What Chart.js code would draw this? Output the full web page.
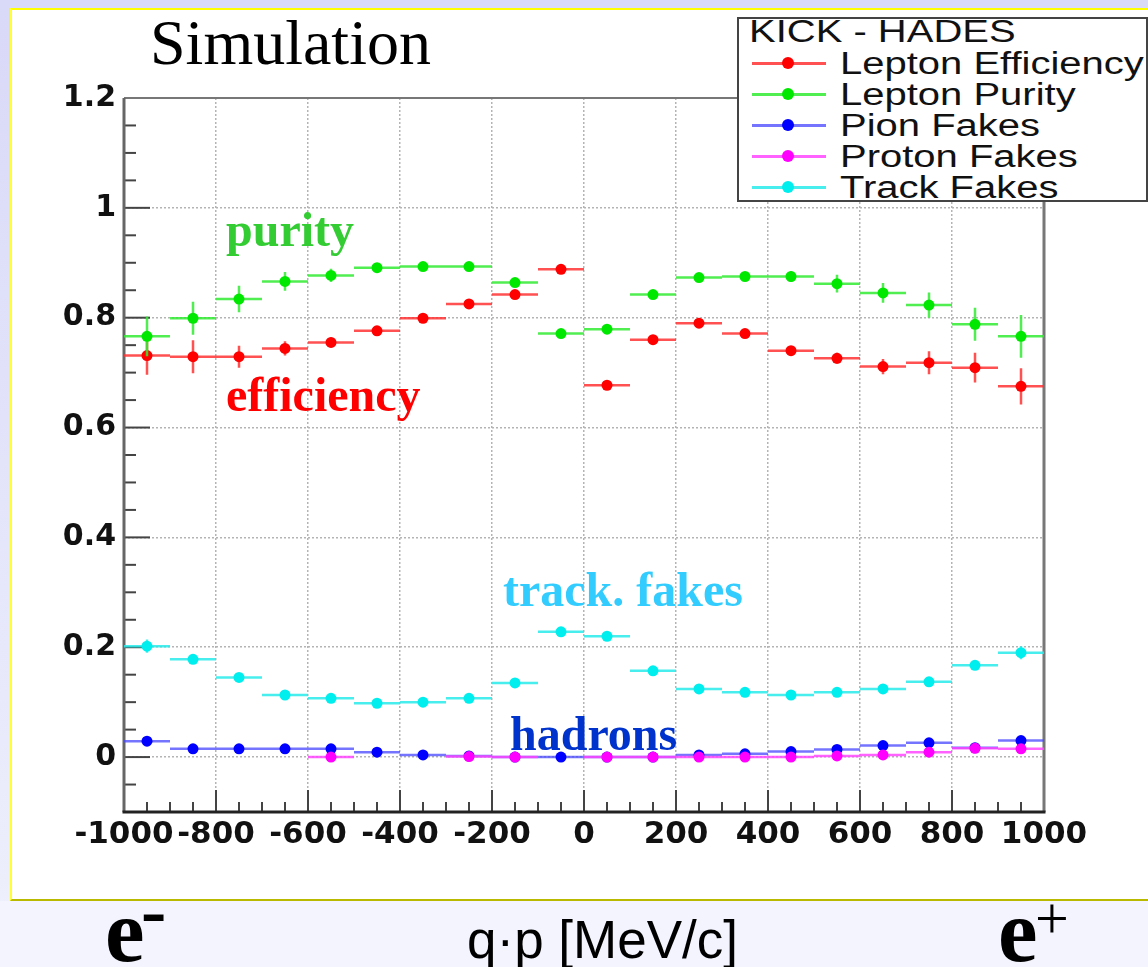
<!DOCTYPE html>
<html>
<head>
<meta charset="utf-8">
<title>KICK - HADES lepton identification</title>
<script src="https://cdn.jsdelivr.net/npm/chart.js@4.4.1/dist/chart.umd.min.js"></script>
<style>
  html, body { margin: 0; padding: 0; }
  body {
    position: relative; width: 1148px; height: 967px; overflow: hidden;
    background: linear-gradient(to bottom, #d9d9f8 0px, #eceefc 880px, #f3f4fd 967px);
  }
  #panel {
    position: absolute; left: 10px; top: 8px; width: 1150px; height: 889px;
    background: #fff;
    border-top: 2px solid #ffff00; border-left: 2px solid #ffff33; border-bottom: 2px solid #b9b900;
  }
  #footer { position: absolute; left: 0; top: 901px; width: 1148px; height: 66px; background: #f3f4fd; }
  #chart { position: absolute; left: 0; top: 0; }
  .note { position: absolute; white-space: nowrap; line-height: 1; }
  .serif { font-family: "Liberation Serif", "Times New Roman", serif; }
  .sans { font-family: "Liberation Sans", Arial, sans-serif; }
  .bold { font-weight: bold; }

  #legend {
    position: absolute; left: 737px; top: 17px; width: 407px; height: 181px;
    border: 2px solid #444; background: #fff; overflow: hidden;
    font-family: "Liberation Sans", Arial, sans-serif; color: #111;
  }
  #legend .title {
    position: absolute; left: 10px; top: -3px; font-size: 31px; line-height: 31px;
    transform: scaleX(1.29); transform-origin: left center; white-space: nowrap;
  }
  #legend .row { position: absolute; left: 0; width: 600px; height: 31px; }
  #legend .line { position: absolute; left: 13px; top: 14px; width: 74px; height: 3px; }
  #legend .dot { position: absolute; left: 43px; top: 9px; width: 12px; height: 12px; border-radius: 50%; }
  #legend .text {
    position: absolute; left: 101px; top: 0; font-size: 31px; line-height: 31px;
    transform: scaleX(1.29); transform-origin: left center; white-space: nowrap;
  }
</style>
</head>
<body>
<div id="panel"></div>
<div id="footer"></div>
<canvas id="chart" width="1148" height="967"></canvas>

<div id="legend"><div class="title">KICK - HADES</div></div>

<div class="note serif" style="left:150px; top:11px; font-size:64px; color:#000;">Simulation</div>
<div class="note serif bold" style="left:226px; top:206px; font-size:48px; color:#33cc33;">purity</div>
<div class="note serif bold" style="left:226px; top:371px; font-size:48px; color:#ff0000;">efficiency</div>
<div class="note serif bold" style="left:503px; top:566px; font-size:48px; color:#33ccff;">track. fakes</div>
<div class="note serif bold" style="left:510px; top:710px; font-size:48px; color:#0033cc;">hadrons</div>

<div class="note serif bold" style="left:105px; top:887px; font-size:89px; color:#000;">e</div>
<div class="note serif bold" style="left:141px; top:872px; font-size:76px; color:#000;">-</div>
<div class="note sans" style="left:467px; top:913px; font-size:53px; color:#000;">q·p [MeV/c]</div>
<div class="note serif bold" style="left:998px; top:887px; font-size:89px; color:#000;">e</div>
<div class="note serif" style="left:1035px; top:888px; font-size:60px; color:#000;">+</div>

<script>
// bin centres in q*p (MeV/c); every bin is 100 MeV/c wide
const qpBins = [-950, -850, -750, -650, -550, -450, -350, -250, -150, -50,
                50, 150, 250, 350, 450, 550, 650, 750, 850, 950];
const binHalfWidth = 50;

const leptonEff = [0.731, 0.729, 0.729, 0.744, 0.755, 0.776, 0.799, 0.825, 0.842, 0.888,
                   0.677, 0.760, 0.790, 0.771, 0.740, 0.726, 0.711, 0.718, 0.709, 0.675];
const leptonEffErr = [0.035, 0.030, 0.020, 0.013, 0.009, 0.006, 0.005, 0.005, 0.005, 0.005,
                      0.005, 0.006, 0.006, 0.007, 0.008, 0.010, 0.014, 0.021, 0.027, 0.033];

const leptonPur = [0.766, 0.799, 0.834, 0.866, 0.877, 0.891, 0.893, 0.893, 0.864, 0.771,
                   0.779, 0.842, 0.873, 0.875, 0.875, 0.862, 0.845, 0.823, 0.788, 0.766];
const leptonPurErr = [0.036, 0.030, 0.024, 0.017, 0.012, 0.008, 0.007, 0.007, 0.008, 0.006,
                      0.006, 0.007, 0.007, 0.008, 0.010, 0.016, 0.018, 0.023, 0.030, 0.039];

const pionFakes = [0.029, 0.015, 0.015, 0.015, 0.015, 0.009, 0.004, 0.002, 0.000, 0.000,
                   0.000, 0.000, 0.004, 0.006, 0.010, 0.014, 0.021, 0.026, 0.017, 0.030];
const pionFakesErr = [0.004, 0.003, 0.003, 0.003, 0.003, 0.003, 0.002, 0.002, 0.002, 0.002,
                      0.002, 0.002, 0.002, 0.002, 0.003, 0.003, 0.003, 0.004, 0.004, 0.005];

const protonFakes = [null, null, null, null, 0.000, null, null, 0.001, 0.000, null,
                     0.000, 0.000, 0.000, 0.000, 0.000, 0.002, 0.004, 0.009, 0.016, 0.015];
const protonFakesErr = [0, 0, 0, 0, 0.002, 0, 0, 0.002, 0.002, 0,
                        0.002, 0.002, 0.002, 0.002, 0.002, 0.002, 0.003, 0.003, 0.004, 0.004];

const trackFakes = [0.202, 0.178, 0.145, 0.113, 0.107, 0.098, 0.100, 0.107, 0.135, 0.228,
                    0.220, 0.157, 0.124, 0.118, 0.113, 0.118, 0.124, 0.137, 0.167, 0.190];
const trackFakesErr = [0.012, 0.007, 0.005, 0.004, 0.004, 0.004, 0.004, 0.004, 0.005, 0.005,
                       0.005, 0.005, 0.004, 0.004, 0.004, 0.004, 0.004, 0.005, 0.008, 0.012];

const seriesNames = ['Lepton Efficiency', 'Lepton Purity', 'Pion Fakes', 'Proton Fakes', 'Track Fakes'];
const seriesValues = [leptonEff, leptonPur, pionFakes, protonFakes, trackFakes];
const seriesErrors = [leptonEffErr, leptonPurErr, pionFakesErr, protonFakesErr, trackFakesErr];

const xTickValues = [-1000, -800, -600, -400, -200, 0, 200, 400, 600, 800, 1000];
const yTickValues = [0, 0.2, 0.4, 0.6, 0.8, 1, 1.2];
const yTickLabels = ['0', '0.2', '0.4', '0.6', '0.8', '1', '1.2'];

// styles
const markerColors = ['#ff0000', '#00e800', '#0000ff', '#ff00ff', '#00eeee'];
const barColors = ['rgba(255,50,50,0.85)', 'rgba(50,235,50,0.85)', 'rgba(70,70,255,0.75)',
                   'rgba(255,70,255,0.85)', 'rgba(40,235,235,0.85)'];

// horizontal bar = bin width, vertical bar = statistical error
const errorBars = {
    id: 'errorBars',
    beforeDatasetDraw(chart, args) {
        const ds = chart.data.datasets[args.index];
        const xs = chart.scales.x;
        const ys = chart.scales.y;
        const ctx = chart.ctx;
        ctx.save();
        ctx.strokeStyle = ds.barColor;
        ctx.lineWidth = 2.5;
        ds.data.forEach((p, i) => {
            if (p.y === null) return;
            const px = xs.getPixelForValue(p.x);
            const py = ys.getPixelForValue(p.y);
            const e = ds.errors[i];
            ctx.beginPath();
            ctx.moveTo(xs.getPixelForValue(p.x - binHalfWidth), py);
            ctx.lineTo(xs.getPixelForValue(p.x + binHalfWidth), py);
            if (e > 0) {
                ctx.moveTo(px, ys.getPixelForValue(p.y - e));
                ctx.lineTo(px, ys.getPixelForValue(p.y + e));
            }
            ctx.stroke();
        });
        ctx.restore();
    }
};

// ROOT style frame with inward ticks
const rootFrame = {
    id: 'rootFrame',
    beforeDatasetsDraw(chart) {
        const ctx = chart.ctx;
        const a = chart.chartArea;
        const xs = chart.scales.x;
        const ys = chart.scales.y;
        ctx.save();
        ctx.strokeStyle = '#444';
        ctx.lineWidth = 2;
        for (let k = 0; k <= 40; k++) {
            const v = -1000 + k * 50;
            const px = xs.getPixelForValue(v);
            ctx.beginPath();
            ctx.moveTo(px, a.bottom);
            ctx.lineTo(px, a.bottom - (k % 4 === 0 ? 22 : 10));
            ctx.stroke();
        }
        for (let k = 0; k <= 26; k++) {
            const v = -0.1 + k * 0.05;
            const py = ys.getPixelForValue(v);
            ctx.beginPath();
            ctx.moveTo(a.left, py);
            ctx.lineTo(a.left + ((k - 2) % 4 === 0 ? 26 : 12), py);
            ctx.stroke();
        }
        ctx.lineWidth = 2;
        ctx.strokeStyle = '#777';
        ctx.beginPath();
        ctx.moveTo(a.left, a.top);
        ctx.lineTo(a.right, a.top);
        ctx.stroke();
        ctx.lineWidth = 3;
        ctx.strokeStyle = '#777';
        ctx.beginPath();
        ctx.moveTo(a.right, a.top);
        ctx.lineTo(a.right, a.bottom);
        ctx.stroke();
        ctx.strokeStyle = '#666';
        ctx.beginPath();
        ctx.moveTo(a.left, a.top);
        ctx.lineTo(a.left, a.bottom);
        ctx.stroke();
        ctx.strokeStyle = '#222';
        ctx.beginPath();
        ctx.moveTo(a.left - 1.5, a.bottom);
        ctx.lineTo(a.right + 1.5, a.bottom);
        ctx.stroke();
        ctx.restore();
    }
};

const datasets = seriesNames.map((name, s) => ({
    label: name,
    data: qpBins.map((x, i) => ({ x: x, y: seriesValues[s][i] })),
    errors: seriesErrors[s],
    barColor: barColors[s],
    showLine: false,
    pointRadius: 5.5,
    pointHoverRadius: 5.5,
    pointBorderWidth: 0,
    pointBackgroundColor: markerColors[s],
    order: seriesNames.length - s
}));

const tickFont = { family: 'DejaVu Sans', weight: 'bold', size: 30 };

new Chart(document.getElementById('chart').getContext('2d'), {
    type: 'line',
    data: { datasets: datasets },
    options: {
        responsive: false,
        animation: false,
        layout: { padding: { top: 98, right: 104, left: 0, bottom: 0 } },
        plugins: { legend: { display: false }, tooltip: { enabled: false } },
        scales: {
            x: {
                type: 'linear',
                min: -1000,
                max: 1000,
                afterBuildTicks: scale => { scale.ticks = xTickValues.map(v => ({ value: v })); },
                afterFit: scale => { scale.height = 155; },
                ticks: { font: { family: 'DejaVu Sans', weight: 'bold', size: 31 }, color: '#111', padding: 4,
                         autoSkip: false, maxRotation: 0, minRotation: 0, callback: v => String(v) },
                grid: { color: '#b4b4b4', lineWidth: 1.5, drawTicks: false },
                border: { display: false, dash: [2, 2] }
            },
            y: {
                type: 'linear',
                min: -0.1,
                max: 1.2,
                afterBuildTicks: scale => { scale.ticks = yTickValues.map(v => ({ value: v })); },
                afterFit: scale => { scale.width = 124; },
                ticks: { font: tickFont, color: '#111', padding: 8,
                         callback: (v, i) => yTickLabels[i] },
                grid: { color: '#b4b4b4', lineWidth: 1.5, drawTicks: false },
                border: { display: false, dash: [2, 2] }
            }
        }
    },
    plugins: [rootFrame, errorBars]
});

// legend box, one row per series
const legend = document.getElementById('legend');
seriesNames.forEach((name, s) => {
    const row = document.createElement('div');
    row.className = 'row';
    row.style.top = (29 + 31 * s) + 'px';
    row.innerHTML = '<div class="line" style="background:' + barColors[s] + '"></div>' +
                    '<div class="dot" style="background:' + markerColors[s] + '"></div>' +
                    '<div class="text">' + name + '</div>';
    legend.appendChild(row);
});
</script>
</body>
</html>
